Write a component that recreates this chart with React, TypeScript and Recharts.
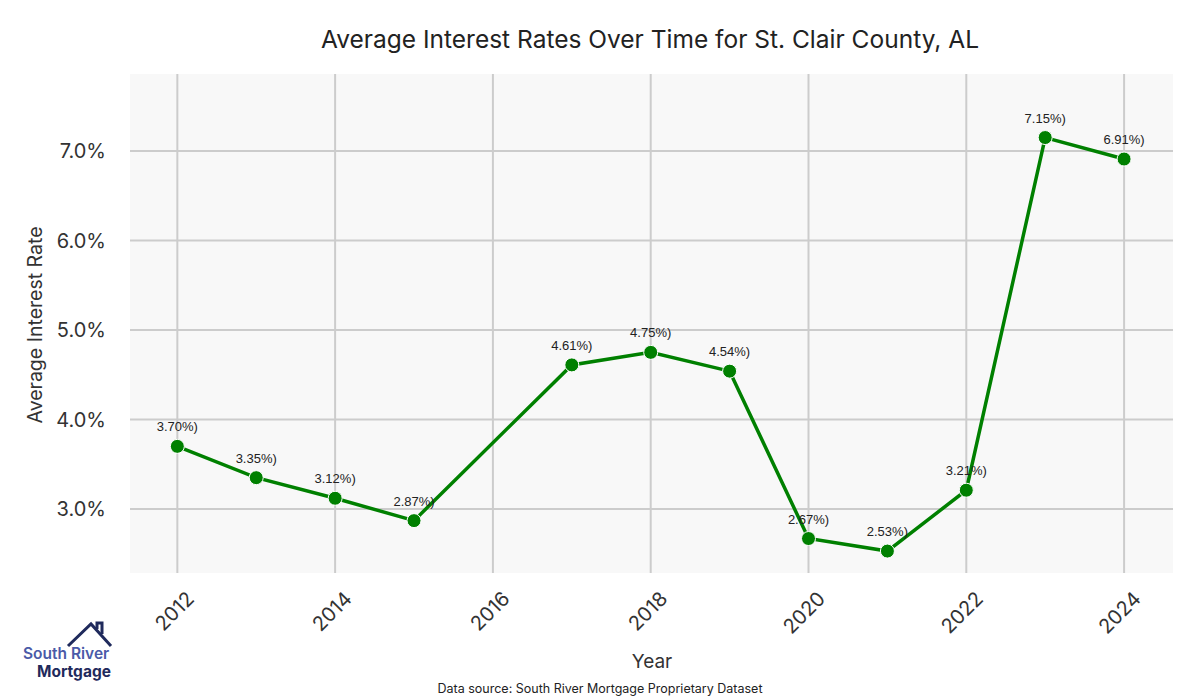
import { LineChart, Line, XAxis, YAxis, CartesianGrid, LabelList } from 'recharts';

const years = [2012, 2013, 2014, 2015, 2017, 2018, 2019, 2020, 2021, 2022, 2023, 2024];
const rates = [3.7, 3.35, 3.12, 2.87, 4.61, 4.75, 4.54, 2.67, 2.53, 3.21, 7.15, 6.91];
const xTicks = [2012, 2014, 2016, 2018, 2020, 2022, 2024];
const yTicks = [3, 4, 5, 6, 7];

const data = years.map((year, i) => ({ year, rate: rates[i] }));

const FONT = 'Inter, "DejaVu Sans", sans-serif';

function YearTick(props: any) {
  const { x, y, payload } = props;
  return (
    <text
      transform={`translate(${x + 18}, ${y + 19}) rotate(-45)`}
      textAnchor="end"
      fontSize={20}
      fill="#333"
      fontFamily={FONT}
    >
      {payload.value}
    </text>
  );
}

function Logo() {
  return (
    <svg width={120} height={62} style={{ position: 'absolute', left: 18, top: 620 }}>
      <polyline points="50,26 73,4 93,26" fill="none" stroke="#1f2a5c" strokeWidth={3} />
      <polyline points="79,9 79,3 84,3 84,14" fill="none" stroke="#1f2a5c" strokeWidth={3} />
      <text x={5} y={39} fontSize={15.5} fontWeight={600} fill="#4a5aa8" fontFamily={FONT}>
        South River
      </text>
      <text x={19} y={57} fontSize={15.5} fontWeight={700} fill="#1f2a5c" fontFamily={FONT}>
        Mortgage
      </text>
    </svg>
  );
}

export default function App() {
  return (
    <div style={{ position: 'absolute', left: 0, top: 0, width: 1200, height: 700, background: '#fff', fontFamily: FONT }}>
      <div style={{ position: 'absolute', top: 24, left: 0, width: 1300, textAlign: 'center', fontSize: 24.5, color: '#222' }}>
        Average Interest Rates Over Time for St. Clair County, AL
      </div>
      <LineChart width={1200} height={700} data={data} margin={{ top: 74, right: 27, left: 30, bottom: 67 }}>
        <CartesianGrid
          fill="#f8f8f8"
          stroke="#cccccc"
          strokeWidth={2}
          horizontalValues={yTicks}
          verticalValues={xTicks}
        />
        <XAxis
          dataKey="year"
          type="number"
          domain={[2011.4, 2024.62]}
          ticks={xTicks}
          axisLine={false}
          tickLine={false}
          height={60}
          tick={<YearTick />}
          allowDataOverflow
        />
        <YAxis
          type="number"
          domain={[2.285, 7.86]}
          ticks={yTicks}
          axisLine={false}
          tickLine={false}
          width={100}
          tickFormatter={(v: number) => `${v.toFixed(1)}%`}
          tick={{ fontSize: 20, fill: '#333', fontFamily: FONT }}
          tickMargin={18}
          allowDataOverflow
        />
        <Line
          type="linear"
          dataKey="rate"
          stroke="#008000"
          strokeWidth={3.5}
          dot={{ r: 7, fill: '#008000', stroke: '#ffffff', strokeWidth: 1 }}
          isAnimationActive={false}
        >
          <LabelList
            dataKey="rate"
            position="top"
            offset={15}
            formatter={(v: number) => `${v.toFixed(2)}%)`}
            style={{ fontSize: 13, fill: '#222', fontFamily: '"Liberation Sans", Arial, sans-serif' }}
          />
        </Line>
      </LineChart>
      <div
        style={{
          position: 'absolute',
          left: 35,
          top: 325,
          transform: 'translate(-50%, -50%) rotate(-90deg)',
          fontSize: 19.5,
          color: '#333',
          whiteSpace: 'nowrap',
        }}
      >
        Average Interest Rate
      </div>
      <div style={{ position: 'absolute', left: 0, width: 1304, top: 650, textAlign: 'center', fontSize: 19, color: '#333' }}>
        Year
      </div>
      <div style={{ position: 'absolute', left: 0, width: 1200, top: 681, textAlign: 'center', fontSize: 12.5, color: '#222' }}>
        Data source: South River Mortgage Proprietary Dataset
      </div>
      <Logo />
    </div>
  );
}
